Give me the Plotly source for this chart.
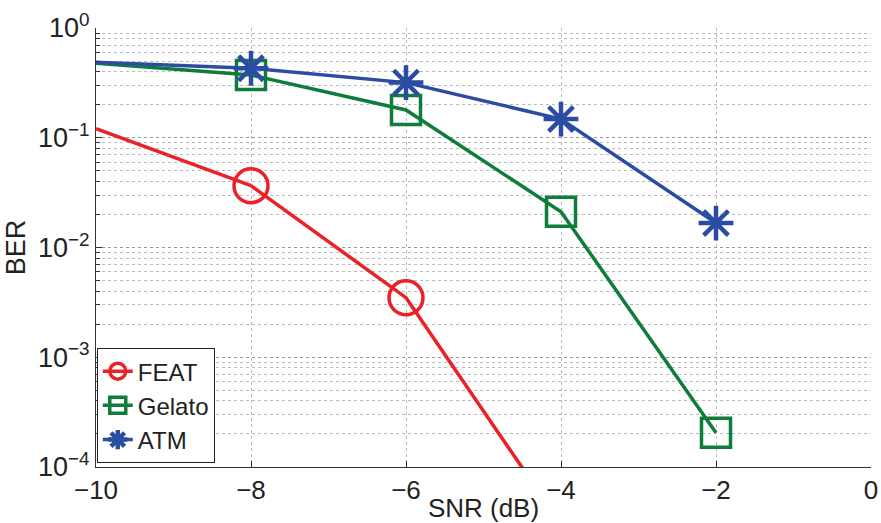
import plotly.graph_objects as go

snr = [-10, -8, -6, -4, -2]
feat_x = [-10, -8, -6, -4]
feat_ber = [0.121, 0.0366, 0.00349, 3.0e-5]
gelato_ber = [0.477, 0.373, 0.179, 0.0212, 2.05e-4]
atm_ber = [0.487, 0.43, 0.318, 0.148, 0.0167]

RED = "#EC2027"
GREEN = "#0E7D3C"
BLUE = "#2A4CA2"

fig = go.Figure()

def add(name, x, y, color, symbol, size, lw):
    # lead-in segment (the first sample has no visible marker in the reference)
    fig.add_trace(go.Scatter(
        x=x[:2], y=y[:2], mode="lines", showlegend=False, hoverinfo="skip",
        line=dict(color=color, width=3.5),
    ))
    fig.add_trace(go.Scatter(
        x=x[1:], y=y[1:], name=name, mode="lines+markers",
        line=dict(color=color, width=3.5),
        marker=dict(symbol=symbol, size=size, color=color,
                    line=dict(color=color, width=lw)),
    ))

add("FEAT", feat_x, feat_ber, RED, "circle-open", 34, 3.5)
add("Gelato", snr, gelato_ber, GREEN, "square-open", 29, 3.5)
add("ATM", snr, atm_ber, BLUE, "asterisk-open", 29, 4.5)

font = "Liberation Sans, Arial, sans-serif"
fig.update_layout(
    width=881, height=523,
    margin=dict(l=96, r=10, t=28, b=56, autoexpand=False),
    paper_bgcolor="white", plot_bgcolor="white",
    font=dict(family=font, size=24, color="#222"),
    showlegend=True,
    legend=dict(x=0.001, y=0.009, xanchor="left", yanchor="bottom",
                bgcolor="white", bordercolor="#222", borderwidth=1,
                font=dict(size=24), tracegroupgap=0, itemwidth=30),
)
fig.update_xaxes(
    range=[-10, 0], dtick=2, tick0=0, automargin=False,
    showgrid=True, gridcolor="#bbb", griddash="dot", gridwidth=1,
    showline=True, linecolor="#333", linewidth=1,
    ticks="inside", ticklen=6, tickcolor="#333",
    zeroline=False,
    title=dict(text="SNR (dB)", standoff=0, font=dict(size=26)),
    tickfont=dict(size=26),
)
fig.update_yaxes(
    type="log", range=[-4, 0], automargin=False,
    tickvals=[1e-4, 1e-3, 1e-2, 1e-1, 1],
    ticktext=["10<sup>−4</sup>", "10<sup>−3</sup>", "10<sup>−2</sup>", "10<sup>−1</sup>", "10<sup>0</sup>"],
    showgrid=True, gridcolor="#999", griddash="dot", gridwidth=1,
    minor=dict(dtick="D1", showgrid=True, gridcolor="#bbb", griddash="dot",
               ticks="inside", ticklen=4, tickcolor="#333"),
    showline=True, linecolor="#333", linewidth=1,
    ticks="inside", ticklen=6, tickcolor="#333",
    title=dict(text="BER", standoff=4, font=dict(size=27)),
    tickfont=dict(size=27),
)

fig.write_html("out.html")
